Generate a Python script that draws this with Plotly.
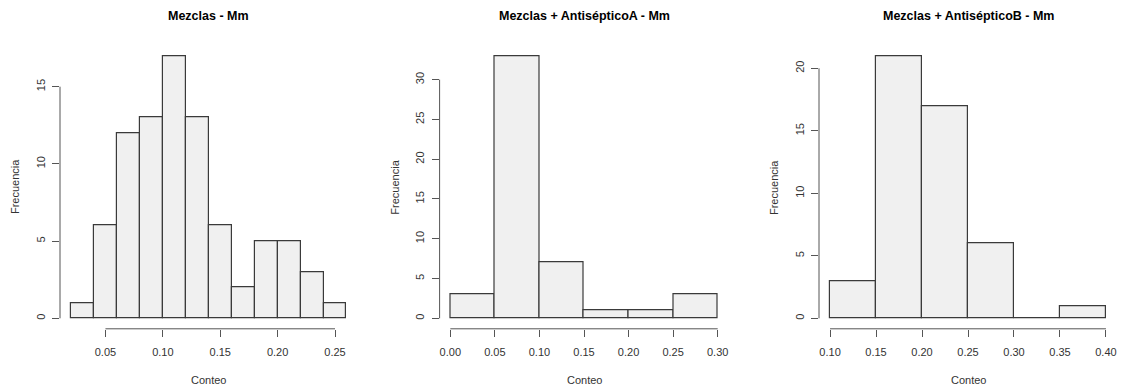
import plotly.graph_objects as go

# ---- data ----
titles = ["Mezclas - Mm", "Mezclas + AntisépticoA - Mm", "Mezclas + AntisépticoB - Mm"]
edges1 = [0.02, 0.04, 0.06, 0.08, 0.10, 0.12, 0.14, 0.16, 0.18, 0.20, 0.22, 0.24, 0.26]
counts1 = [1, 6, 12, 13, 17, 13, 6, 2, 5, 5, 3, 1]
edges2 = [0.00, 0.05, 0.10, 0.15, 0.20, 0.25, 0.30]
counts2 = [3, 33, 7, 1, 1, 3]
edges3 = [0.10, 0.15, 0.20, 0.25, 0.30, 0.35, 0.40]
counts3 = [3, 21, 17, 6, 0, 1]
xticks1 = [0.05, 0.10, 0.15, 0.20, 0.25]
xticks2 = [0.00, 0.05, 0.10, 0.15, 0.20, 0.25, 0.30]
xticks3 = [0.10, 0.15, 0.20, 0.25, 0.30, 0.35, 0.40]
yticks1 = [0, 5, 10, 15]
yticks2 = [0, 5, 10, 15, 20, 25, 30]
yticks3 = [0, 5, 10, 15, 20]
xlabel = "Conteo"
ylabel = "Frecuencia"

W, H = 1124, 391
FONT = "Liberation Sans, Arial, sans-serif"
panels = [
    (edges1, counts1, xticks1, yticks1, (60, 357.5)),
    (edges2, counts2, xticks2, yticks2, (439.6, 728.4)),
    (edges3, counts3, xticks3, yticks3, (819, 1117)),
]
ytop, ybot = 45.3, 328.8

fig = go.Figure()
layout = dict(
    width=W, height=H, margin=dict(l=0, r=0, t=0, b=0),
    paper_bgcolor="white", plot_bgcolor="white", showlegend=False,
    font=dict(family=FONT, color="#333333"),
)
shapes, annotations = [], []
for i, (edges, counts, xt, yt, (px0, px1)) in enumerate(panels):
    n = i + 1
    xa = "x" if n == 1 else f"x{n}"
    ya = "y" if n == 1 else f"y{n}"
    lefts = edges[:-1]
    widths = [edges[k + 1] - edges[k] for k in range(len(counts))]
    fig.add_trace(go.Bar(
        x=lefts, y=counts, width=widths, offset=0, xaxis=xa, yaxis=ya,
        marker=dict(color="#F0F0F0", line=dict(color="#3a3a3a", width=1.2)),
        hoverinfo="x+y",
    ))
    lo, hi = edges[0], edges[-1]
    pad = 0.04 * (hi - lo)
    ymax = max(counts)
    xkey = "xaxis" if n == 1 else f"xaxis{n}"
    ykey = "yaxis" if n == 1 else f"yaxis{n}"
    layout[xkey] = dict(
        domain=[px0 / W, px1 / W], range=[lo - pad, hi + pad], anchor=ya,
        showgrid=False, zeroline=False, showline=False,
        tickmode="array", tickvals=xt, tickformat=".2f",
        ticks="outside", ticklen=7, tickwidth=1, tickcolor="#555555",
        ticklabelstandoff=6,
        tickfont=dict(size=11, color="#333333", family=FONT),
    )
    layout[ykey] = dict(
        domain=[1 - ybot / H, 1 - ytop / H], range=[-0.04 * ymax, 1.04 * ymax], anchor=xa,
        showgrid=False, zeroline=False, showline=False,
        tickmode="array", tickvals=yt, tickangle=-90,
        ticks="outside", ticklen=7, tickwidth=1, tickcolor="#555555",
        ticklabelstandoff=3,
        tickfont=dict(size=11, color="#333333", family=FONT),
    )
    # R-style axis lines spanning the tick range
    shapes.append(dict(type="line", xref=xa, yref=f"{ya} domain",
                       x0=xt[0], x1=xt[-1], y0=0, y1=0,
                       line=dict(color="#555555", width=1)))
    shapes.append(dict(type="line", xref=f"{xa} domain", yref=ya,
                       x0=0, x1=0, y0=yt[0], y1=yt[-1],
                       line=dict(color="#555555", width=1)))
    cx = (px0 + px1) / 2 / W
    annotations.append(dict(text=f"<b>{titles[i]}</b>", x=cx, y=1 - 16 / H,
                            xref="paper", yref="paper", showarrow=False,
                            xanchor="center", yanchor="middle",
                            font=dict(size=12.5, color="#000000", family=FONT)))
    annotations.append(dict(text=xlabel, x=cx, y=1 - 380 / H,
                            xref="paper", yref="paper", showarrow=False,
                            xanchor="center", yanchor="middle",
                            font=dict(size=11, color="#333333", family=FONT)))
    annotations.append(dict(text=ylabel, x=(px0 - 45) / W, y=1 - ((ytop + ybot) / 2) / H,
                            xref="paper", yref="paper", showarrow=False, textangle=-90,
                            xanchor="center", yanchor="middle",
                            font=dict(size=11, color="#333333", family=FONT)))

layout["shapes"] = shapes
layout["annotations"] = annotations
layout["bargap"] = 0
fig.update_layout(**layout)
fig.write_html("out.html")
